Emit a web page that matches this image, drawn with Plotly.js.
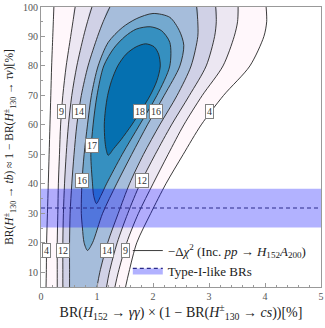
<!DOCTYPE html>
<html>
<head>
<meta charset="utf-8">
<script src="https://cdn.plot.ly/plotly-3.0.1.min.js"></script>
<style>body{margin:0;background:#fff}</style>
</head>
<body>
<div id="chi2-plot" style="width:325px;height:328px"></div>
<script>
// -Delta chi^2 contours
var yRows = [5, 10, 20, 30, 40, 50, 60, 70, 80, 90, 95, 100];

// open contours: x position of the left / right branch at each yRows value
var c4Left   = [0.09, 0.095, 0.10, 0.115, 0.13, 0.145, 0.16, 0.175, 0.19, 0.21, 0.22, 0.23];
var c4Right  = [1.51, 1.57, 1.71, 1.96, 2.23, 2.54, 2.86, 3.26, 3.73, 3.98, 4.03, 4.02];
var c9Left   = [0.29, 0.29, 0.29, 0.30, 0.31, 0.33, 0.35, 0.39, 0.45, 0.53, 0.57, 0.61];
var c9Right  = [1.32, 1.38, 1.53, 1.74, 2.00, 2.27, 2.55, 2.88, 3.25, 3.45, 3.51, 3.52];
var c12Left  = [0.39, 0.39, 0.39, 0.40, 0.42, 0.45, 0.49, 0.55, 0.64, 0.76, 0.83, 0.91];
var c12Right = [1.17, 1.22, 1.36, 1.55, 1.77, 2.04, 2.33, 2.65, 2.95, 3.10, 3.13, 3.12];
var c14Left  = [0.51, 0.51, 0.51, 0.52, 0.55, 0.59, 0.64, 0.72, 0.84, 1.01, 1.11, 1.23];
var c14Right = [1.00, 1.05, 1.19, 1.38, 1.58, 1.83, 2.12, 2.43, 2.68, 2.80, 2.80, 2.78];

// closed contours
var c16x = [0.83, 0.77, 0.74, 0.72, 0.73, 0.77, 0.83, 0.90, 1.02, 1.20, 1.45, 1.70, 2.00, 2.30, 2.47, 2.55, 2.48, 2.20, 1.90, 1.62, 1.35, 1.10, 0.92, 0.83];
var c16y = [17.4, 20, 25, 30, 40, 50, 60, 70, 80, 88, 93, 96, 97.8, 96.5, 92, 87, 80, 70, 60, 50, 40, 30, 20, 17.4];
var c17x = [0.99, 0.94, 0.92, 0.89, 0.93, 1.00, 1.12, 1.30, 1.50, 1.70, 1.95, 2.15, 2.30, 2.30, 2.07, 1.76, 1.45, 1.17, 1.07, 0.99];
var c17y = [33.3, 36, 40, 50, 60, 70, 80, 86, 90, 92.5, 93.3, 92, 88, 80, 70, 60, 50, 40, 36, 33.3];
var c18x = [1.20, 1.16, 1.14, 1.13, 1.15, 1.19, 1.26, 1.37, 1.52, 1.70, 1.87, 2.02, 2.10, 2.13, 2.07, 1.95, 1.79, 1.62, 1.43, 1.30, 1.20];
var c18y = [49.7, 52, 55, 60, 65, 70, 75, 80, 84, 86.5, 87.5, 86.5, 84, 80, 75, 70, 65, 60, 55, 52, 49.7];

// contour labels
var labelText = ["9", "14", "18", "16", "4", "17", "16", "12", "4", "12", "14", "9"];
var labelX = [0.36, 0.67, 1.76, 2.06, 3.01, 0.905, 0.74, 1.80, 0.10, 0.39, 1.17, 1.50];
var labelY = [64.7, 64.7, 64.7, 64.7, 64.7, 53.1, 41.2, 41.2, 17.5, 17.5, 17.5, 17.5];

// Type-I-like band
var bandLow = 25.2;
var bandHigh = 38.3;
var typeIMid = 31.8;

var xMin = 0, xMax = 5;

var fillColors = ["#fff7fb", "#ece7f2", "#d0d1e6", "#a6bddb", "#74a9cf", "#3690c0", "#0570b0"];
var lineColor = "#262626";

function openFill(left, right, color) {
  return {
    x: left.concat(right.slice().reverse()),
    y: yRows.concat(yRows.slice().reverse()),
    type: "scatter", mode: "lines", fill: "toself", fillcolor: color,
    line: {width: 0, shape: "spline", smoothing: 0.8},
    hoverinfo: "skip", showlegend: false
  };
}
function closedFill(xs, ys, color) {
  return {
    x: xs, y: ys,
    type: "scatter", mode: "lines", fill: "toself", fillcolor: color,
    line: {width: 0, shape: "spline", smoothing: 0.8},
    hoverinfo: "skip", showlegend: false
  };
}
function openLine(left, right) {
  return {
    x: left.concat([null], right),
    y: yRows.concat([null], yRows),
    type: "scatter", mode: "lines",
    line: {color: lineColor, width: 0.9, shape: "spline", smoothing: 0.8},
    hoverinfo: "skip", showlegend: false
  };
}
function closedLine(xs, ys) {
  return {
    x: xs, y: ys,
    type: "scatter", mode: "lines",
    line: {color: lineColor, width: 0.9, shape: "spline", smoothing: 0.8},
    hoverinfo: "skip", showlegend: false
  };
}

var data = [
  openFill(c4Left, c4Right, fillColors[0]),
  openFill(c9Left, c9Right, fillColors[1]),
  openFill(c12Left, c12Right, fillColors[2]),
  openFill(c14Left, c14Right, fillColors[3]),
  closedFill(c16x, c16y, fillColors[4]),
  closedFill(c17x, c17y, fillColors[5]),
  closedFill(c18x, c18y, fillColors[6])
];

var line4 = openLine(c4Left, c4Right);
line4.showlegend = true;
line4.name = "−Δ<i>χ</i><sup>2</sup> (Inc. <i>pp</i> → <i>H</i><sub>152</sub><i>A</i><sub>200</sub>)";
data.push(line4);
data.push(openLine(c9Left, c9Right));
data.push(openLine(c12Left, c12Right));
data.push(openLine(c14Left, c14Right));
data.push(closedLine(c16x, c16y));
data.push(closedLine(c17x, c17y));
data.push(closedLine(c18x, c18y));

var bandColor = "rgba(0,0,255,0.3)";
var dashColor = "#2b2b8a";

// band
data.push({
  x: [xMin, xMax, xMax, xMin, xMin],
  y: [bandLow, bandLow, bandHigh, bandHigh, bandLow],
  type: "scatter", mode: "lines", fill: "toself", fillcolor: bandColor,
  line: {width: 0}, hoverinfo: "skip", showlegend: false
});
data.push({
  x: [xMin, xMax],
  y: [typeIMid, typeIMid],
  type: "scatter", mode: "lines",
  line: {color: dashColor, width: 1, dash: "4px,3px"},
  hoverinfo: "skip", showlegend: false
});
// legend entry for the band
data.push({
  x: [null], y: [null],
  type: "scatter", mode: "lines", fill: "toself", fillcolor: bandColor,
  line: {color: dashColor, width: 1.2, dash: "4px,3px"},
  name: "Type-I-like BRs", hoverinfo: "skip"
});

var annotations = labelText.map(function (t, i) {
  return {
    x: labelX[i], y: labelY[i], text: t, showarrow: false,
    font: {size: 10, color: "#333", family: "Liberation Serif"},
    bgcolor: "#fff", bordercolor: "#808080", borderwidth: 1, borderpad: 1
  };
});

var serif = "Liberation Serif, DejaVu Serif, serif";
var layout = {
  width: 325, height: 328,
  margin: {l: 41, r: 4, t: 7, b: 41},
  paper_bgcolor: "#fff", plot_bgcolor: "#fff",
  font: {family: serif, color: "#222"},
  showlegend: true,
  legend: {
    x: 0.31, y: 0.005, xanchor: "left", yanchor: "bottom",
    bgcolor: "rgba(0,0,0,0)", borderwidth: 0,
    font: {family: serif, size: 13, color: "#222"},
    tracegroupgap: 2
  },
  xaxis: {
    range: [xMin, xMax], dtick: 1, tick0: 0,
    ticks: "inside", ticklen: 4, tickcolor: "#999",
    minor: {dtick: 0.2, ticks: "inside", ticklen: 2, tickcolor: "#999"},
    showgrid: false, zeroline: false,
    showline: true, linecolor: "#999", linewidth: 1, mirror: true,
    tickfont: {size: 10, color: "#555", family: serif},
    title: {
      text: "BR(<i>H</i><sub>152</sub> → <i>γγ</i>) × (1 − BR(<i>H</i><sup>±</sup><sub>130</sub> → <i>cs</i>))[%]",
      font: {size: 14, color: "#222", family: serif}, standoff: 5
    }
  },
  yaxis: {
    range: [5, 100], dtick: 10, tick0: 0,
    ticks: "inside", ticklen: 4, tickcolor: "#999",
    minor: {dtick: 5, ticks: "inside", ticklen: 2, tickcolor: "#999"},
    showgrid: false, zeroline: false,
    showline: true, linecolor: "#999", linewidth: 1, mirror: true,
    tickfont: {size: 10, color: "#555", family: serif},
    title: {
      text: "BR(<i>H</i><sup>±</sup><sub>130</sub> → <i>tb</i>) ≈ 1 − BR(<i>H</i><sup>±</sup><sub>130</sub> → <i>τν</i>)[%]",
      font: {size: 11.5, color: "#222", family: serif}, standoff: 6
    }
  },
  annotations: annotations
};

Plotly.newPlot("chi2-plot", data, layout, {displayModeBar: false, staticPlot: true});
</script>
</body>
</html>
